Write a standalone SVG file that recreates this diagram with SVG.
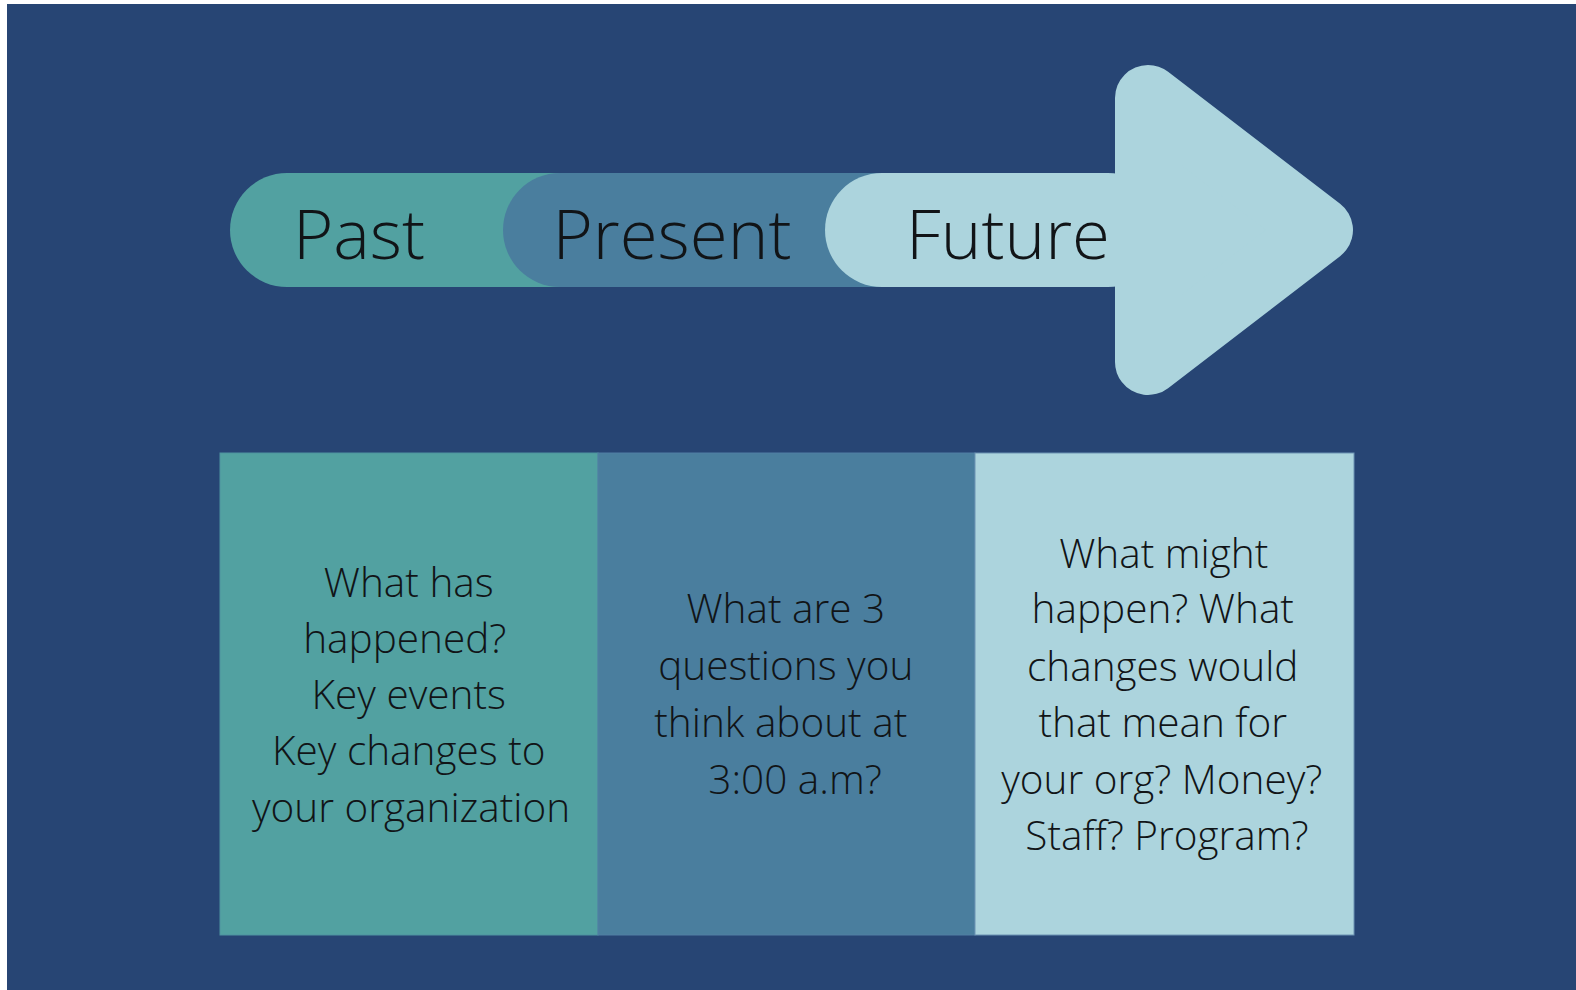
<svg xmlns="http://www.w3.org/2000/svg" width="1576" height="990" viewBox="0 0 1576 990">
  <style>
    .lbl { font-family: "Open Sans", "Liberation Sans", sans-serif; font-weight: 300; fill: #111417; text-anchor: middle; }
    .big { font-size: 69px; }
    .body { font-size: 40.5px; }
    .teal { fill: #52a1a1; }
    .mid { fill: #4a7e9e; }
    .light { fill: #acd4dd; }
  </style>
  <rect x="0" y="0" width="1576" height="990" fill="#ffffff"/>
  <rect x="7" y="4" width="1569" height="986" fill="#274574"/>

  <g id="past">
    <rect class="teal" x="230" y="173" width="420" height="114" rx="57" ry="57"/>
    <text class="lbl big" x="359" y="259">Past</text>
  </g>
  <g id="present">
    <rect class="mid" x="503" y="173" width="450" height="114" rx="57" ry="57"/>
    <text class="lbl big" x="672" y="259">Present</text>
  </g>
  <g id="future">
    <rect class="light" x="825" y="173" width="340" height="114" rx="57" ry="57"/>
    <polygon class="light" points="1148,98 1320,230 1148,362" stroke="#acd4dd" stroke-width="66" stroke-linejoin="round"/>
    <text class="lbl big" x="1008" y="259">Future</text>
  </g>

  <g id="connectors"></g>

  <g id="past-box">
    <rect class="teal" x="220" y="453" width="378" height="482" stroke="#4f93a0" stroke-width="1"/>
    <text class="lbl body">
      <tspan x="414" y="597">What has</tspan>
      <tspan x="410" y="653">happened?</tspan>
      <tspan x="414" y="709">Key events</tspan>
      <tspan x="414" y="765">Key changes to</tspan>
      <tspan x="411" y="822">your organization</tspan>
    </text>
  </g>
  <g id="present-box">
    <rect class="mid" x="598" y="453" width="377" height="482" stroke="#517fa3" stroke-width="1"/>
    <text class="lbl body">
      <tspan x="791" y="623">What are 3</tspan>
      <tspan x="791" y="680">questions you</tspan>
      <tspan x="786" y="737">think about at</tspan>
      <tspan x="795" y="794">3:00 a.m?</tspan>
    </text>
  </g>
  <g id="future-box">
    <rect class="light" x="975" y="453" width="379" height="482" stroke="#6d93b3" stroke-width="1"/>
    <text class="lbl body">
      <tspan x="1169" y="568">What might</tspan>
      <tspan x="1168" y="623">happen? What</tspan>
      <tspan x="1168" y="681">changes would</tspan>
      <tspan x="1168" y="737">that mean for</tspan>
      <tspan x="1167" y="794">your org? Money?</tspan>
      <tspan x="1167" y="850">Staff? Program?</tspan>
    </text>
  </g>
</svg>
